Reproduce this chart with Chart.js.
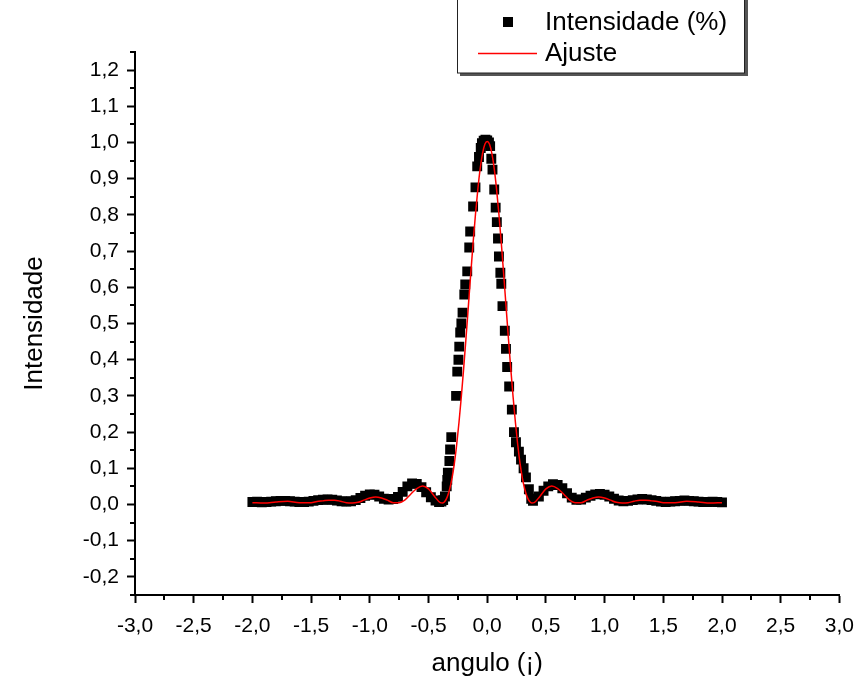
<!DOCTYPE html>
<html>
<head>
<meta charset="utf-8">
<script src="https://cdn.jsdelivr.net/npm/chart.js@4.4.1/dist/chart.umd.min.js"></script>
<style>
  body { margin: 0; background: #fff; }
  #wrap { width: 865px; height: 682px; }
</style>
</head>
<body>
<div id="wrap"><canvas id="grafico" width="865" height="682"></canvas></div>
<script>
// Ajuste (fit curve)
const fitX = [-2.00, -1.90, -1.80, -1.70, -1.60, -1.50, -1.45, -1.40, -1.35, -1.30, -1.25, -1.20, -1.15, -1.10, -1.05, -1.00,
  -0.95, -0.90, -0.85, -0.80, -0.75, -0.70, -0.65, -0.60, -0.55, -0.50, -0.45, -0.40, -0.38, -0.36, -0.34, -0.32,
  -0.30, -0.28, -0.26, -0.24, -0.22, -0.20, -0.18, -0.16, -0.14, -0.12, -0.10, -0.08, -0.06, -0.04, -0.02, 0.00,
  0.02, 0.04, 0.06, 0.08, 0.10, 0.12, 0.14, 0.16, 0.18, 0.20, 0.22, 0.24, 0.26, 0.28, 0.30, 0.32,
  0.34, 0.36, 0.38, 0.40, 0.45, 0.50, 0.55, 0.60, 0.65, 0.70, 0.75, 0.80, 0.85, 0.90, 0.95, 1.00,
  1.05, 1.10, 1.15, 1.20, 1.25, 1.30, 1.35, 1.40, 1.45, 1.50, 1.60, 1.70, 1.80, 1.90, 2.00];
const fitY = [0.005, 0.004, 0.007, 0.009, 0.005, 0.005, 0.008, 0.010, 0.012, 0.012, 0.009, 0.005, 0.004, 0.006, 0.012, 0.018,
  0.021, 0.018, 0.012, 0.005, 0.005, 0.013, 0.029, 0.044, 0.051, 0.043, 0.023, 0.005, 0.004, 0.009, 0.021, 0.042,
  0.072, 0.113, 0.165, 0.228, 0.299, 0.378, 0.462, 0.550, 0.638, 0.723, 0.801, 0.870, 0.927, 0.969, 0.995, 1.003,
  0.995, 0.969, 0.927, 0.870, 0.801, 0.723, 0.638, 0.550, 0.462, 0.378, 0.299, 0.228, 0.165, 0.113, 0.072, 0.042,
  0.021, 0.009, 0.004, 0.005, 0.023, 0.043, 0.051, 0.044, 0.029, 0.013, 0.005, 0.005, 0.012, 0.018, 0.021, 0.018,
  0.012, 0.006, 0.004, 0.005, 0.009, 0.012, 0.012, 0.010, 0.008, 0.005, 0.005, 0.009, 0.007, 0.004, 0.005];

// Intensidade (%) measured points (black squares)
const dataX = [-2.00, -1.96, -1.92, -1.88, -1.84, -1.80, -1.76, -1.72, -1.68, -1.64, -1.60, -1.56, -1.52, -1.48, -1.44, -1.40,
  -1.36, -1.32, -1.28, -1.24, -1.20, -1.16, -1.12, -1.08, -1.04, -1.00, -0.96, -0.92, -0.88, -0.84, -0.80, -0.76,
  -0.72, -0.68, -0.64, -0.60, -0.56, -0.52, -0.48, -0.44, -0.41, -0.39, -0.375, -0.36, -0.345, -0.34, -0.335, -0.322,
  -0.316, -0.306, -0.265, -0.255, -0.245, -0.238, -0.23, -0.22, -0.21, -0.195, -0.187, -0.17, -0.153, -0.145, -0.12, -0.10,
  -0.085, -0.07, -0.055, -0.045, -0.03, -0.015, 0.000, 0.015, 0.025, 0.035, 0.045, 0.06, 0.072, 0.082, 0.092, 0.10,
  0.112, 0.12, 0.13, 0.15, 0.16, 0.17, 0.187, 0.21, 0.228, 0.245, 0.27, 0.288, 0.31, 0.33, 0.355, 0.375,
  0.39, 0.44, 0.48, 0.52, 0.56, 0.60, 0.64, 0.68, 0.72, 0.76, 0.80, 0.84, 0.88, 0.92, 0.96, 1.00,
  1.04, 1.08, 1.12, 1.16, 1.20, 1.24, 1.28, 1.32, 1.36, 1.40, 1.44, 1.48, 1.52, 1.56, 1.60, 1.64,
  1.68, 1.72, 1.76, 1.80, 1.84, 1.88, 1.92, 1.96, 2.00];
const dataY = [0.007, 0.008, 0.006, 0.007, 0.008, 0.009, 0.010, 0.010, 0.009, 0.008, 0.007, 0.007, 0.008, 0.010, 0.012, 0.013,
  0.014, 0.013, 0.011, 0.009, 0.008, 0.009, 0.012, 0.018, 0.024, 0.028, 0.027, 0.022, 0.016, 0.014, 0.015, 0.021,
  0.035, 0.050, 0.058, 0.057, 0.048, 0.034, 0.020, 0.011, 0.007, 0.008, 0.012, 0.022, 0.050, 0.068, 0.088, 0.120,
  0.152, 0.186, 0.300, 0.367, 0.400, 0.436, 0.475, 0.500, 0.530, 0.580, 0.608, 0.644, 0.710, 0.754, 0.823, 0.876,
  0.934, 0.960, 0.985, 0.998, 1.005, 1.008, 1.006, 1.000, 0.990, 0.955, 0.925, 0.870, 0.820, 0.780, 0.735, 0.685,
  0.640, 0.610, 0.548, 0.480, 0.430, 0.380, 0.326, 0.262, 0.200, 0.172, 0.146, 0.124, 0.100, 0.075, 0.042, 0.016,
  0.010, 0.022, 0.038, 0.050, 0.056, 0.054, 0.045, 0.031, 0.019, 0.013, 0.014, 0.019, 0.024, 0.028, 0.029, 0.027,
  0.022, 0.016, 0.011, 0.009, 0.010, 0.012, 0.014, 0.015, 0.014, 0.012, 0.010, 0.008, 0.007, 0.008, 0.009, 0.010,
  0.011, 0.010, 0.009, 0.008, 0.007, 0.007, 0.008, 0.007, 0.006];

const xLimits = [-3, 3];
const yLimits = [-0.25, 1.25];
const seriesNames = ['Intensidade (%)', 'Ajuste'];
const xTitle = 'angulo (¡)';
const yTitle = 'Intensidade';

const FONT = '"Liberation Sans", Arial, sans-serif';

function isMajor(v, step) {
  let r = v / step;
  return Math.abs(r - Math.round(r)) < 1e-6;
}
function virgula(v) {
  return v.toFixed(1).replace('.', ',');
}

// small ticks between the labelled ones
const minorTicks = {
  id: 'minorTicks',
  afterDraw(chart) {
    const ctx = chart.ctx;
    ctx.save();
    ctx.strokeStyle = '#000';
    ctx.lineWidth = 2;
    [['x', 0.5], ['y', 0.1]].forEach(([id, step]) => {
      const sc = chart.scales[id];
      sc.ticks.forEach(t => {
        if (isMajor(t.value, step)) return;
        const p = Math.round(sc.getPixelForValue(t.value));
        ctx.beginPath();
        if (id === 'x') {
          ctx.moveTo(p, sc.top);
          ctx.lineTo(p, sc.top + 5);
        } else {
          ctx.moveTo(sc.right, p);
          ctx.lineTo(sc.right - 5, p);
        }
        ctx.stroke();
      });
    });
    ctx.restore();
  }
};

// Origin style legend box at the top
const legendBox = {
  id: 'legendBox',
  afterDraw(chart) {
    const ctx = chart.ctx;
    const ds = chart.data.datasets;
    ctx.save();
    ctx.fillStyle = '#555';
    ctx.fillRect(460, -2, 288, 78);
    ctx.fillStyle = '#fff';
    ctx.fillRect(457, -2, 287, 75);
    ctx.strokeStyle = '#222';
    ctx.lineWidth = 1;
    ctx.strokeRect(457.5, -2, 287, 75);

    ctx.fillStyle = ds[0].backgroundColor;
    ctx.fillRect(503, 17, 10, 10);
    ctx.strokeStyle = ds[1].borderColor;
    ctx.lineWidth = 1.5;
    ctx.beginPath();
    ctx.moveTo(478, 53.5);
    ctx.lineTo(537, 53.5);
    ctx.stroke();

    ctx.fillStyle = '#000';
    ctx.font = '26px ' + FONT;
    ctx.textBaseline = 'middle';
    ctx.textAlign = 'left';
    ctx.fillText(ds[0].label, 545, 23);
    ctx.fillText(ds[1].label, 545, 54);
    ctx.restore();
  }
};

const pontos = dataX.map((x, i) => ({ x: x, y: dataY[i] }));
const ajuste = fitX.map((x, i) => ({ x: x, y: fitY[i] }));

new Chart(document.getElementById('grafico'), {
  type: 'scatter',
  data: {
    datasets: [{
      label: seriesNames[0],
      data: pontos,
      backgroundColor: '#000',
      borderColor: '#000',
      pointStyle: 'rect',
      pointRadius: 7,
      pointBorderWidth: 0,
      showLine: false,
      order: 2
    }, {
      label: seriesNames[1],
      data: ajuste,
      type: 'line',
      borderColor: '#f00',
      borderWidth: 1.5,
      pointRadius: 0,
      fill: false,
      cubicInterpolationMode: 'monotone',
      order: 1
    }]
  },
  options: {
    responsive: false,
    animation: false,
    layout: { padding: { top: 52, right: 24, left: 0, bottom: 0 } },
    plugins: {
      legend: { display: false },
      tooltip: { enabled: false }
    },
    scales: {
      x: {
        type: 'linear',
        min: xLimits[0],
        max: xLimits[1],
        afterFit: s => { s.height = 87; },
        border: { color: '#000', width: 2 },
        grid: {
          drawOnChartArea: false,
          tickLength: 8,
          tickWidth: 2,
          tickColor: c => (c.tick && isMajor(c.tick.value, 0.5)) ? '#000' : 'rgba(0,0,0,0)'
        },
        ticks: {
          stepSize: 0.25,
          autoSkip: false,
          maxRotation: 0,
          padding: 11,
          color: '#000',
          font: { family: FONT, size: 21 },
          callback: v => isMajor(v, 0.5) ? virgula(v) : ''
        },
        title: {
          display: true,
          text: xTitle,
          color: '#000',
          font: { family: FONT, size: 26 },
          padding: { top: 0, bottom: 3 }
        }
      },
      y: {
        type: 'linear',
        min: yLimits[0],
        max: yLimits[1],
        afterFit: s => { s.width = 135; },
        border: { color: '#000', width: 2 },
        grid: {
          drawOnChartArea: false,
          tickLength: 8,
          tickWidth: 2,
          tickColor: c => (c.tick && isMajor(c.tick.value, 0.1)) ? '#000' : 'rgba(0,0,0,0)'
        },
        ticks: {
          stepSize: 0.05,
          autoSkip: false,
          padding: 8,
          color: '#000',
          font: { family: FONT, size: 21 },
          callback: v => isMajor(v, 0.1) ? virgula(v) : ''
        },
        title: {
          display: true,
          text: yTitle,
          color: '#000',
          font: { family: FONT, size: 26 },
          padding: { top: 19, bottom: 0 }
        }
      }
    }
  },
  plugins: [minorTicks, legendBox]
});
</script>
</body>
</html>
